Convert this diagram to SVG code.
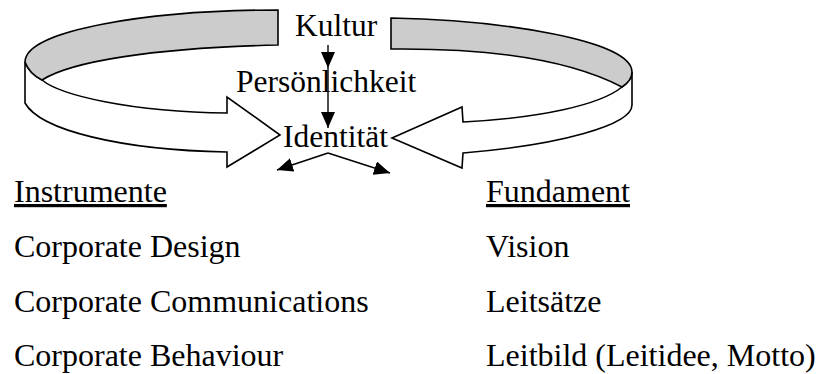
<svg xmlns="http://www.w3.org/2000/svg" width="819" height="374" viewBox="0 0 819 374">
  <style>
    .t { font-family: "Liberation Serif", "Times New Roman", serif; font-size: 32px; fill: #000; }
    .top { font-size: 31.5px; }
    .u { text-decoration: underline; }
    .band { stroke: #000; stroke-width: 1.6; stroke-linejoin: miter; }
    .grey { fill: #cccccc; }
    .white { fill: #ffffff; }
    .link { stroke: #000; stroke-width: 1.4; fill: none; }
  </style>
  <defs>
    <marker id="head" markerUnits="userSpaceOnUse" markerWidth="18" markerHeight="14" refX="16" refY="7" orient="auto">
      <path d="M0,0 L16,7 L0,14 Z" fill="#000"/>
    </marker>
  </defs>
  <rect width="819" height="374" fill="#fff"/>

  <!-- circular ribbon arrows -->
  <g id="ribbon-left">
    <path class="band white" d="M25,62 L25,103 C40,130 120,150 227,152 L227,167 L280,135 L227,97 L227,113 C130,112 60,95 42,80 C34,76 28,70 25,62 Z"/>
    <path class="band grey" d="M278,10 C150,10 25,30 25,62 C28,70 34,76 42,80 C70,62 150,48 278,45 Z"/>
  </g>
  <g id="ribbon-right">
    <path class="band white" d="M632,72 L632,105 C632,125 560,145 463,153 L462,168 L392,138 L462,107 L463,122 C540,118 600,105 622,87 C628,83 632,78 632,72 Z"/>
    <path class="band grey" d="M391,18 L391,49 C490,48 570,60 622,87 C628,83 632,78 632,72 C632,40 500,20 391,18 Z"/>
  </g>

  <!-- connectors -->
  <g id="connectors">
    <line class="link" x1="328" y1="45" x2="328" y2="68" marker-end="url(#head)"/>
    <line class="link" x1="328" y1="68" x2="328" y2="128" marker-end="url(#head)"/>
    <line class="link" x1="328" y1="153" x2="277" y2="170" marker-end="url(#head)"/>
    <line class="link" x1="328" y1="153" x2="390" y2="173" marker-end="url(#head)"/>
  </g>

  <g id="kultur"><text class="t top" x="295" y="36">Kultur</text></g>
  <g id="persoenlichkeit"><text class="t top" x="236" y="92">Persönlichkeit</text></g>
  <g id="identitaet"><text class="t top" x="283" y="147">Identität</text></g>

  <g id="instrumente">
    <text class="t u" x="14" y="202">Instrumente</text>
    <text class="t" x="14" y="257">Corporate Design</text>
    <text class="t" x="14" y="312">Corporate Communications</text>
    <text class="t" x="14" y="366">Corporate Behaviour</text>
  </g>
  <g id="fundament">
    <text class="t u" x="486" y="202">Fundament</text>
    <text class="t" x="486" y="257">Vision</text>
    <text class="t" x="486" y="312">Leitsätze</text>
    <text class="t" x="486" y="366">Leitbild (Leitidee, Motto)</text>
  </g>
</svg>
